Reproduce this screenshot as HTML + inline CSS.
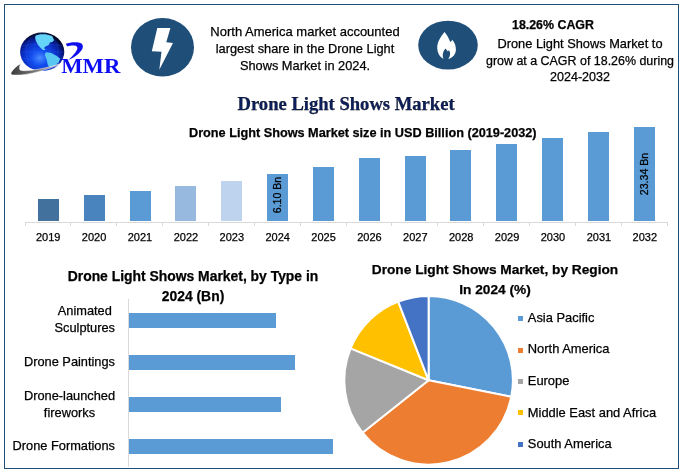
<!DOCTYPE html>
<html><head><meta charset="utf-8">
<style>
html,body{margin:0;padding:0;background:#fff;}
body{width:685px;height:476px;position:relative;overflow:hidden;font-family:"Liberation Sans",sans-serif;color:#000;}
.t,.lab,.lgt,.yr{-webkit-text-stroke:0.25px #000;}
.abs{position:absolute;}
.frame{position:absolute;left:4px;top:4px;width:675px;height:465px;box-sizing:border-box;border:1px solid #1f4e79;}
.t{position:absolute;white-space:nowrap;line-height:1;}
.c{text-align:center;}
.bar{position:absolute;background:#5b9bd5;}
.yr{position:absolute;font-size:11px;width:46px;text-align:center;top:231.5px;line-height:1;}
.tick{position:absolute;width:1px;height:4px;top:222px;background:#d9d9d9;}
.hb{position:absolute;left:129px;height:14.5px;background:#5b9bd5;}
.lab{position:absolute;font-size:12.8px;text-align:center;right:570px;line-height:16.6px;white-space:nowrap;}
.lg{position:absolute;left:518px;width:5px;height:5px;}
.lgt{position:absolute;left:527.8px;font-size:12.9px;line-height:1;white-space:nowrap;}
</style></head>
<body>
<div id="root" style="position:absolute;left:0;top:0;width:685px;height:476px;will-change:transform;">
<div class="frame"></div>

<!-- logo -->
<svg class="abs" style="left:0;top:0" width="130" height="90" viewBox="0 0 130 90">
  <defs>
    <radialGradient id="gl" cx="0.45" cy="0.66" r="0.62">
      <stop offset="0" stop-color="#4a8cff"/>
      <stop offset="0.3" stop-color="#1450f0"/>
      <stop offset="0.62" stop-color="#0a2fc8"/>
      <stop offset="0.85" stop-color="#051680"/>
      <stop offset="1" stop-color="#01051f"/>
    </radialGradient>
    <linearGradient id="sw" x1="0" y1="0" x2="1" y2="0">
      <stop offset="0" stop-color="#3c3c3c"/>
      <stop offset="0.4" stop-color="#6a6a6a"/>
      <stop offset="1" stop-color="#b8b8b8"/>
    </linearGradient>
  </defs>
  <ellipse cx="42.2" cy="51.8" rx="22.1" ry="19.2" fill="url(#gl)"/>
  <g stroke="#3a78ff" stroke-width="0.35" fill="none" opacity="0.55">
    <ellipse cx="42.2" cy="51.8" rx="8" ry="19"/>
    <ellipse cx="42.2" cy="51.8" rx="16" ry="19"/>
    <path d="M20.5 46 Q42 42 63.5 46 M20 52 L64 52 M21 58 Q42 62 63 58"/>
  </g>
  <path d="M35.6 35.6 L40.2 34.2 L45.8 34.2 L52.2 36 L54.1 40.2 L52.2 42 L49.9 42.5 L48.5 45.3 L45.8 46.2 L43.9 48 L45.8 49.9 L43 49.9 L40.2 47.6 L37.9 44.8 L36 41.1 L35.1 37.9 Z" fill="#66d4f8"/>
  <path d="M45.8 52.2 L51.3 53.1 L56.9 55.9 L60.1 58.7 L58.7 62.4 L55 65.2 L49.5 67.9 L47.6 64.2 L46.7 59.6 L44.8 55 Z" fill="#58c8f3"/>
  <path d="M10.9 73 C 12.5 70, 16 66, 20.6 63.7 C 19.5 66, 19.2 69, 20.1 70 C 22 71.2, 30 70.8, 39.5 69 C 48 67.3, 55 65.5, 59.5 63.7 L59.5 64.6 C 52 67.5, 46 69.5, 39.5 71.4 C 30 74, 21 75.5, 13 75 C 11.5 74.8, 10.8 74, 10.9 73 Z" fill="url(#sw)" stroke="#fff" stroke-width="0.5"/>
  <path transform="translate(55,36) scale(0.10219)" d="M105,76 C 140,62 200,56 240,66 C 270,74 280,95 268,125 C 250,165 190,210 132,236 C 172,198 210,155 218,128 C 224,108 210,95 185,94 C 160,93 138,98 124,102 C 116,95 109,86 105,76 Z" fill="#1010ee"/>
  <text x="61.2" y="72.8" font-family="Liberation Serif" font-weight="bold" font-size="20.8" fill="#0d0df2" textLength="59.2" lengthAdjust="spacingAndGlyphs">MMR</text>
</svg>

<!-- lightning icon -->
<svg class="abs" style="left:0;top:0" width="685" height="90">
  <ellipse cx="162.5" cy="47.2" rx="31.5" ry="29.3" fill="#1f4e79"/>
  <path d="M157.3 28.1 L170.4 28.1 L166.3 42.3 L173 43.1 L159.3 69.8 L161.5 51.7 L151.8 51.3 Z" fill="#fff"/>
  <ellipse cx="448" cy="45.1" rx="29.8" ry="24.4" fill="#1f4e79"/>
  <path d="M444.5 31.9 C 442 35, 437.8 40.5, 437.3 46 C 436.9 51, 438.5 56, 443.6 59.1 C 442.3 56, 442.4 51.5, 445.6 48.4 C 446.4 49.5, 447 50.5, 447.6 51.2 C 448.2 51, 448.7 50.7, 449.1 50.3 C 450.6 52.8, 450.6 56.2, 448.2 59.1 C 453.2 57.5, 455.9 54, 455.9 49.5 C 455.9 45, 454.2 42, 452.2 39.8 C 451.8 40.9, 451 41.7, 450.2 41.9 C 449 38.5, 447 34.5, 444.5 31.9 Z" fill="#fff"/>
</svg>

<!-- top texts -->
<div class="t c" style="left:200px;top:24px;width:210px;font-size:12.9px;line-height:16.9px;"><span style="font-size:13px">North America market accounted</span><br><span style="font-size:12.8px">largest share in the Drone Light</span><br><span style="font-size:12.8px">Shows Market in 2024.</span></div>
<div class="t" style="left:512px;top:19px;font-size:12.4px;font-weight:bold;">18.26% CAGR</div>
<div class="t c" style="left:480px;top:36px;width:200px;font-size:12.6px;line-height:16.5px;"><span style="font-size:12.8px">Drone Light Shows Market to</span><br><span style="font-size:12.45px">grow at a CAGR of 18.26% during</span><br><span style="font-size:12.55px">2024-2032</span></div>

<!-- main title -->
<div class="t" style="left:237.5px;top:95px;font-family:'Liberation Serif',serif;font-weight:bold;font-size:18.6px;color:#0c1f5c;">Drone Light Shows Market</div>
<div class="t" style="left:189px;top:127px;font-size:12.7px;font-weight:bold;">Drone Light Shows Market size in USD Billion (2019-2032)</div>

<!-- bar chart -->
<div class="abs" style="left:25px;top:222px;width:643px;height:1px;background:#d9d9d9;"></div>
<div class="bar" style="left:38px;top:199.0px;width:21.0px;height:22.0px;background:#41719c"></div>
<div class="yr" style="left:25.2px">2019</div>
<div class="bar" style="left:84px;top:195.0px;width:21.0px;height:26.0px;background:#4a84bf"></div>
<div class="yr" style="left:71.1px">2020</div>
<div class="bar" style="left:130px;top:191.0px;width:21.0px;height:30.0px;background:#5b9bd5"></div>
<div class="yr" style="left:117.0px">2021</div>
<div class="bar" style="left:175px;top:186.0px;width:21.0px;height:35.0px;background:#97b9e0"></div>
<div class="yr" style="left:162.9px">2022</div>
<div class="bar" style="left:221px;top:181.0px;width:21.0px;height:40.0px;background:#bdd3ee"></div>
<div class="yr" style="left:208.8px">2023</div>
<div class="bar" style="left:267px;top:174.0px;width:21.0px;height:47.0px;background:#5b9bd5"></div>
<div class="yr" style="left:254.7px">2024</div>
<div class="bar" style="left:313px;top:167.0px;width:21.0px;height:54.0px;background:#5b9bd5"></div>
<div class="yr" style="left:300.6px">2025</div>
<div class="bar" style="left:359px;top:158.0px;width:21.0px;height:63.0px;background:#5b9bd5"></div>
<div class="yr" style="left:346.4px">2026</div>
<div class="bar" style="left:405px;top:156.0px;width:21.0px;height:65.0px;background:#5b9bd5"></div>
<div class="yr" style="left:392.3px">2027</div>
<div class="bar" style="left:450px;top:150.0px;width:21.0px;height:71.0px;background:#5b9bd5"></div>
<div class="yr" style="left:438.2px">2028</div>
<div class="bar" style="left:496px;top:144.0px;width:21.0px;height:77.0px;background:#5b9bd5"></div>
<div class="yr" style="left:484.1px">2029</div>
<div class="bar" style="left:542px;top:138.0px;width:21.0px;height:83.0px;background:#5b9bd5"></div>
<div class="yr" style="left:530.0px">2030</div>
<div class="bar" style="left:588px;top:132.0px;width:21.0px;height:89.0px;background:#5b9bd5"></div>
<div class="yr" style="left:575.9px">2031</div>
<div class="bar" style="left:634px;top:127.0px;width:21.0px;height:94.0px;background:#5b9bd5"></div>
<div class="yr" style="left:621.8px">2032</div>
<div class="tick" style="left:25px"></div>
<div class="tick" style="left:70px"></div>
<div class="tick" style="left:116px"></div>
<div class="tick" style="left:162px"></div>
<div class="tick" style="left:208px"></div>
<div class="tick" style="left:254px"></div>
<div class="tick" style="left:300px"></div>
<div class="tick" style="left:346px"></div>
<div class="tick" style="left:391px"></div>
<div class="tick" style="left:437px"></div>
<div class="tick" style="left:483px"></div>
<div class="tick" style="left:529px"></div>
<div class="tick" style="left:575px"></div>
<div class="tick" style="left:621px"></div>
<div class="tick" style="left:667px"></div>
<div class="t" style="left:277.2px;top:195.3px;font-size:10.6px;transform:translate(-50%,-50%) rotate(-90deg);">6.10 Bn</div>
<div class="t" style="left:644.2px;top:173.6px;font-size:10.6px;transform:translate(-50%,-50%) rotate(-90deg);">23.34 Bn</div>

<!-- type chart -->
<div class="t c" style="left:43px;top:267px;width:300px;font-size:13.9px;font-weight:bold;line-height:19.5px;">Drone Light Shows Market, by Type in<br>2024 (Bn)</div>
<div class="abs" style="left:128px;top:299px;width:1px;height:168px;background:#d9d9d9;"></div>
<div class="hb" style="top:313px;width:147px;"></div>
<div class="hb" style="top:355px;width:166px;"></div>
<div class="hb" style="top:397px;width:152px;"></div>
<div class="hb" style="top:439px;width:204px;"></div>
<div class="lab" style="top:303px;">Animated<br>Sculptures</div>
<div class="lab" style="top:354px;">Drone Paintings</div>
<div class="lab" style="top:388px;">Drone-launched<br>fireworks</div>
<div class="lab" style="top:438px;">Drone Formations</div>

<!-- pie chart -->
<div class="t c" style="left:345px;top:259.5px;width:300px;font-size:13.7px;font-weight:bold;line-height:20px;">Drone Light Shows Market, by Region<br>In 2024 (%)</div>
<svg id="pie" class="abs" style="left:0;top:0" width="685" height="476"><path d="M428.6,380.3 L428.60,296.00 A84.3,84.3 0 0 1 511.27,396.82 Z" fill="#5b9bd5" stroke="#fff" stroke-width="2" stroke-linejoin="round"/><path d="M428.6,380.3 L511.27,396.82 A84.3,84.3 0 0 1 362.53,432.66 Z" fill="#ed7d31" stroke="#fff" stroke-width="2" stroke-linejoin="round"/><path d="M428.6,380.3 L362.53,432.66 A84.3,84.3 0 0 1 350.60,348.31 Z" fill="#a5a5a5" stroke="#fff" stroke-width="2" stroke-linejoin="round"/><path d="M428.6,380.3 L350.60,348.31 A84.3,84.3 0 0 1 398.25,301.65 Z" fill="#ffc000" stroke="#fff" stroke-width="2" stroke-linejoin="round"/><path d="M428.6,380.3 L398.25,301.65 A84.3,84.3 0 0 1 428.60,296.00 Z" fill="#4472c4" stroke="#fff" stroke-width="2" stroke-linejoin="round"/></svg>
<div class="lg" style="top:316px;background:#5b9bd5"></div>
<div class="lg" style="top:347.5px;background:#ed7d31"></div>
<div class="lg" style="top:379px;background:#a5a5a5"></div>
<div class="lg" style="top:410px;background:#ffc000"></div>
<div class="lg" style="top:442px;background:#4472c4"></div>
<div class="lgt" style="top:311.6px;">Asia Pacific</div>
<div class="lgt" style="top:343.1px;">North America</div>
<div class="lgt" style="top:374.6px;">Europe</div>
<div class="lgt" style="top:406.6px;">Middle East and Africa</div>
<div class="lgt" style="top:437.6px;">South America</div>
</div>
</body></html>
